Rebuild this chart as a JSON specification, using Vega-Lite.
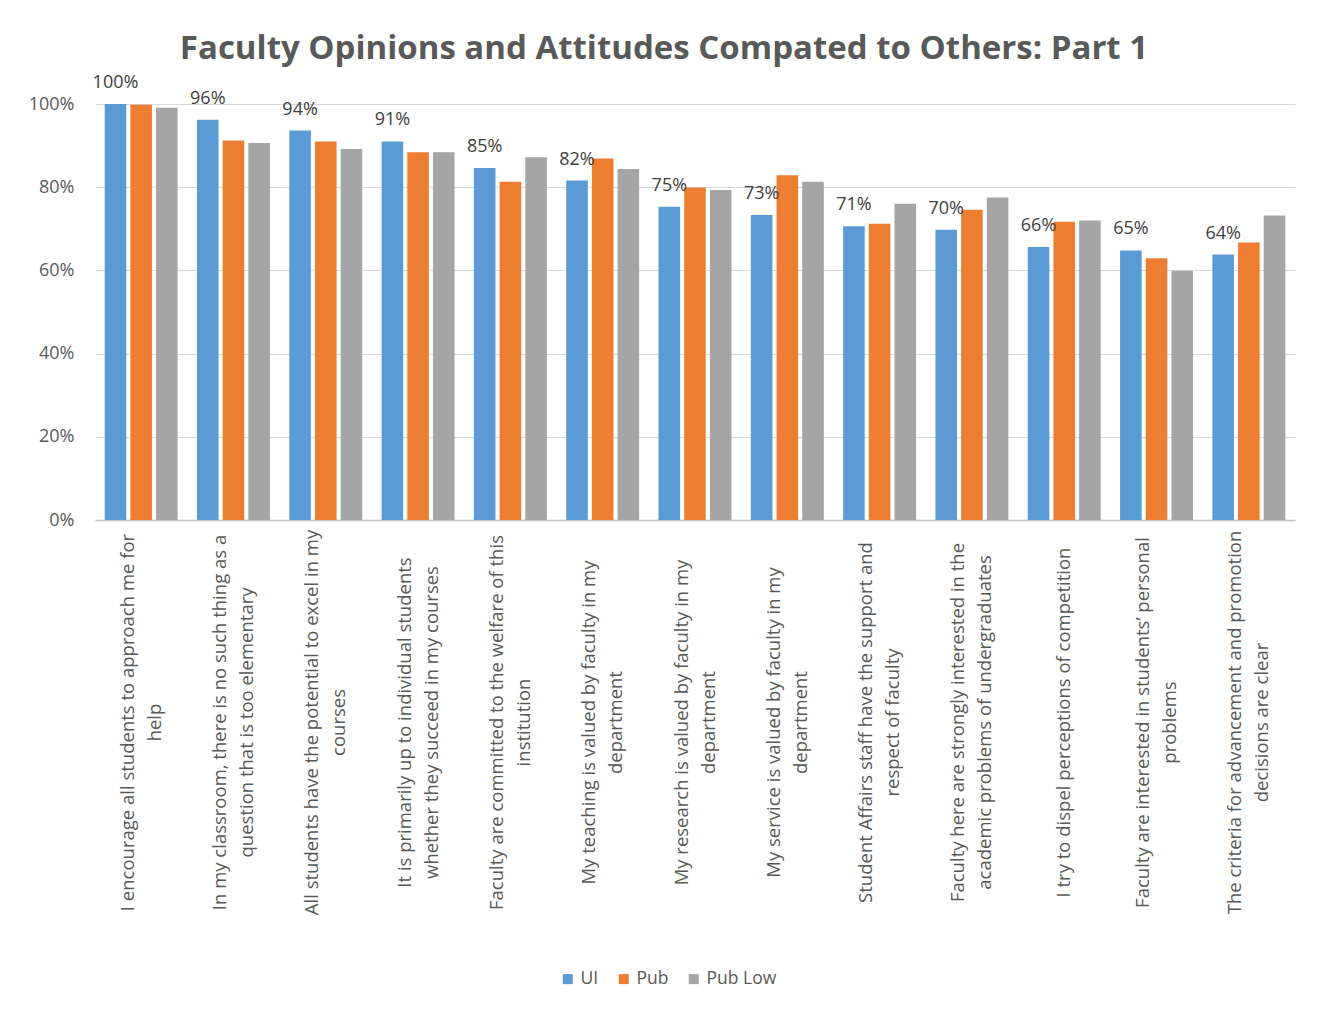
{
  "$schema": "https://vega.github.io/schema/vega-lite/v6.json",
  "width": 1200,
  "height": 416,
  "autosize": {"type": "none"},
  "padding": {"left": 95, "top": 104, "right": 30, "bottom": 490},
  "background": "white",
  "title": {"text": "Faculty Opinions and Attitudes Compated to Others: Part 1", "fontSize": 33, "font": "Open Sans", "fontWeight": "bold", "color": "#595959", "anchor": "middle", "offset": 8, "dx": -31},
  "config": {"view": {"stroke": null}, "font": "Open Sans"},
  "data": {"values": [
    {"q": "I encourage all students to approach me for|help", "series": "UI", "value": 1.0},
    {"q": "I encourage all students to approach me for|help", "series": "Pub", "value": 0.998},
    {"q": "I encourage all students to approach me for|help", "series": "Pub Low", "value": 0.991},
    {"q": "In my classroom, there is no such thing as a|question that is too elementary", "series": "UI", "value": 0.962},
    {"q": "In my classroom, there is no such thing as a|question that is too elementary", "series": "Pub", "value": 0.912},
    {"q": "In my classroom, there is no such thing as a|question that is too elementary", "series": "Pub Low", "value": 0.906},
    {"q": "All students have the potential to excel in my|courses", "series": "UI", "value": 0.936},
    {"q": "All students have the potential to excel in my|courses", "series": "Pub", "value": 0.910},
    {"q": "All students have the potential to excel in my|courses", "series": "Pub Low", "value": 0.892},
    {"q": "It is primarily up to individual students|whether they succeed in my courses", "series": "UI", "value": 0.910},
    {"q": "It is primarily up to individual students|whether they succeed in my courses", "series": "Pub", "value": 0.884},
    {"q": "It is primarily up to individual students|whether they succeed in my courses", "series": "Pub Low", "value": 0.884},
    {"q": "Faculty are committed to the welfare of this|institution", "series": "UI", "value": 0.846},
    {"q": "Faculty are committed to the welfare of this|institution", "series": "Pub", "value": 0.813},
    {"q": "Faculty are committed to the welfare of this|institution", "series": "Pub Low", "value": 0.872},
    {"q": "My teaching is valued by faculty in my|department", "series": "UI", "value": 0.816},
    {"q": "My teaching is valued by faculty in my|department", "series": "Pub", "value": 0.869},
    {"q": "My teaching is valued by faculty in my|department", "series": "Pub Low", "value": 0.844},
    {"q": "My research is valued by faculty in my|department", "series": "UI", "value": 0.753},
    {"q": "My research is valued by faculty in my|department", "series": "Pub", "value": 0.799},
    {"q": "My research is valued by faculty in my|department", "series": "Pub Low", "value": 0.793},
    {"q": "My service is valued by faculty in my|department", "series": "UI", "value": 0.733},
    {"q": "My service is valued by faculty in my|department", "series": "Pub", "value": 0.829},
    {"q": "My service is valued by faculty in my|department", "series": "Pub Low", "value": 0.813},
    {"q": "Student Affairs staff have the support and|respect of faculty", "series": "UI", "value": 0.706},
    {"q": "Student Affairs staff have the support and|respect of faculty", "series": "Pub", "value": 0.712},
    {"q": "Student Affairs staff have the support and|respect of faculty", "series": "Pub Low", "value": 0.760},
    {"q": "Faculty here are strongly interested in the|academic problems of undergraduates", "series": "UI", "value": 0.698},
    {"q": "Faculty here are strongly interested in the|academic problems of undergraduates", "series": "Pub", "value": 0.746},
    {"q": "Faculty here are strongly interested in the|academic problems of undergraduates", "series": "Pub Low", "value": 0.775},
    {"q": "I try to dispel perceptions of competition", "series": "UI", "value": 0.656},
    {"q": "I try to dispel perceptions of competition", "series": "Pub", "value": 0.717},
    {"q": "I try to dispel perceptions of competition", "series": "Pub Low", "value": 0.720},
    {"q": "Faculty are interested in students’ personal|problems", "series": "UI", "value": 0.648},
    {"q": "Faculty are interested in students’ personal|problems", "series": "Pub", "value": 0.629},
    {"q": "Faculty are interested in students’ personal|problems", "series": "Pub Low", "value": 0.599},
    {"q": "The criteria for advancement and promotion|decisions are clear", "series": "UI", "value": 0.638},
    {"q": "The criteria for advancement and promotion|decisions are clear", "series": "Pub", "value": 0.667},
    {"q": "The criteria for advancement and promotion|decisions are clear", "series": "Pub Low", "value": 0.732}
  ]},
  "encoding": {
    "x": {
      "field": "q", "type": "nominal", "sort": null,
      "scale": {"paddingInner": 0.21, "paddingOuter": 0.105},
      "axis": {
        "title": null, "labelAngle": -90, "labelAlign": "center", "labelBaseline": "middle",
        "labelPadding": 202, "ticks": false, "grid": false,
        "domainColor": "#BFBFBF", "domainWidth": 1.5,
        "labelFontSize": 18.5, "labelColor": "#595959", "labelLineHeight": 27,
        "labelOffset": {"condition": {"test": "indexof(datum.value, '|') >= 0", "value": -13.5}, "value": 0},
        "labelExpr": "split(datum.label, '|')", "labelLimit": 600, "labelOverlap": false
      }
    },
    "xOffset": {"field": "series", "type": "nominal", "sort": ["UI", "Pub", "Pub Low"], "scale": {"paddingInner": 0.16, "paddingOuter": 0}}
  },
  "layer": [
    {
      "mark": {"type": "bar"},
      "encoding": {
        "y": {
          "field": "value", "type": "quantitative",
          "scale": {"domain": [0, 1], "nice": false},
          "axis": {
            "title": null, "format": ".0%", "values": [0, 0.2, 0.4, 0.6, 0.8, 1.0],
            "gridColor": "#D9D9D9", "domain": false, "ticks": false,
            "labelFontSize": 18, "labelColor": "#595959", "labelPadding": 21
          }
        },
        "color": {
          "field": "series", "type": "nominal",
          "scale": {"domain": ["UI", "Pub", "Pub Low"], "range": ["#5B9BD5", "#ED7D31", "#A5A5A5"]},
          "legend": {
            "title": null, "orient": "none", "legendX": 464, "legendY": 866, "direction": "horizontal",
            "symbolType": "square", "symbolSize": 100, "symbolStrokeWidth": 0,
            "labelFontSize": 17.5, "labelColor": "#595959", "columnPadding": 16
          }
        }
      }
    },
    {
      "transform": [{"filter": "datum.series === 'UI'"}],
      "mark": {"type": "text", "baseline": "bottom", "dy": -12, "fontSize": 18, "color": "#404040"},
      "encoding": {
        "y": {"field": "value", "type": "quantitative"},
        "text": {"field": "value", "type": "quantitative", "format": ".0%"}
      }
    }
  ]
}
